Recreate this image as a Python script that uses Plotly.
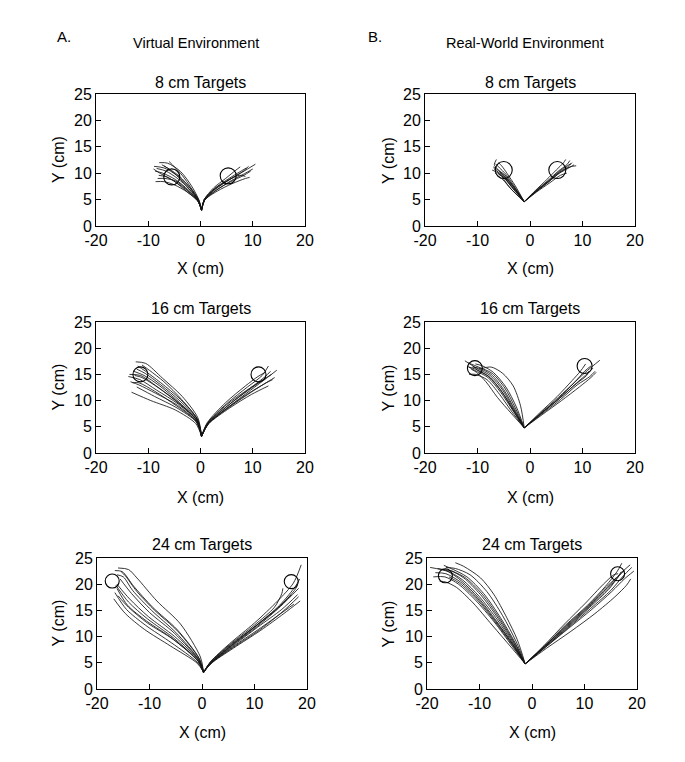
import plotly.graph_objects as go

# ---------------- data (cm) ----------------
PANEL_TITLES = ["8 cm Targets", "16 cm Targets", "24 cm Targets"]
COLUMN_HEADERS = ["Virtual Environment", "Real-World Environment"]
COLUMN_LETTERS = ["A.", "B."]
X_TICKS = [-20, -10, 0, 10, 20]
X_TICK_LABELS = ["-20", "-10", "0", "10", "20"]
Y_TICKS = [0, 5, 10, 15, 20, 25]
Y_TICK_LABELS = ["0", "5", "10", "15", "20", "25"]

# target centres (x, y) per panel: left, right
VE8_TARGETS = [(-5.5, 9.3), (5.3, 9.5)]
VE16_TARGETS = [(-11.5, 15.0), (11.1, 15.0)]
VE24_TARGETS = [(-17.1, 20.6), (17.0, 20.5)]
RW8_TARGETS = [(-5.0, 10.6), (5.2, 10.6)]
RW16_TARGETS = [(-10.5, 16.2), (10.4, 16.6)]
RW24_TARGETS = [(-16.5, 21.6), (16.3, 22.0)]

# trajectories: list of paths, each a list of (x, y) points
VE8_PATHS = [
    [(0.2, 3.0), (-0.3, 4.9), (-1.6, 7.4), (-3.8, 10.3), (-6.3, 11.9), (-7.9, 12.0)],
    [(0.2, 3.0), (-0.4, 4.9), (-2.0, 7.2), (-4.5, 9.6), (-7.0, 11.0), (-8.9, 11.3)],
    [(0.2, 3.0), (-0.5, 4.8), (-2.3, 6.8), (-4.8, 8.8), (-7.2, 10.0), (-8.7, 10.4)],
    [(0.2, 3.0), (-0.5, 4.7), (-2.5, 6.4), (-5.0, 7.8), (-7.0, 8.4), (-8.6, 8.4)],
    [(0.2, 3.0), (-0.4, 4.8), (-2.2, 7.0), (-4.2, 9.2), (-5.8, 10.6), (-7.0, 11.4)],
    [(0.2, 3.0), (-0.5, 4.8), (-2.4, 6.6), (-4.6, 8.2), (-6.5, 9.3), (-8.0, 9.6)],
    [(0.2, 3.0), (-0.3, 4.9), (-1.8, 7.2), (-3.5, 9.6), (-5.0, 11.2), (-6.0, 12.2)],
    [(0.2, 3.0), (-0.5, 4.7), (-2.6, 6.5), (-5.2, 8.6), (-7.6, 9.9), (-9.0, 10.8)],
    [(0.2, 3.0), (-0.4, 4.8), (-2.1, 7.0), (-4.4, 9.0), (-6.6, 10.4), (-8.4, 10.9)],
    [(0.2, 3.0), (-0.5, 4.8), (-2.4, 6.7), (-4.7, 8.5), (-6.8, 9.0), (-8.2, 9.0)],
    [(0.2, 3.0), (-0.4, 4.9), (-1.9, 7.1), (-4.0, 9.4), (-6.0, 10.8), (-7.4, 11.6)],
    [(0.2, 3.0), (0.8, 5.0), (2.8, 7.0), (5.5, 8.8), (8.0, 10.2), (10.5, 11.7)],
    [(0.2, 3.0), (0.8, 4.9), (3.0, 6.8), (5.8, 8.4), (8.3, 9.6), (9.6, 10.4)],
    [(0.2, 3.0), (0.7, 5.0), (2.6, 7.0), (5.2, 8.6), (7.4, 9.6), (8.6, 9.4)],
    [(0.2, 3.0), (0.8, 4.9), (3.2, 6.6), (6.0, 8.0), (8.6, 9.0), (9.4, 9.2)],
    [(0.2, 3.0), (0.7, 5.0), (2.5, 7.2), (4.8, 9.0), (6.8, 10.6), (7.6, 11.2)],
    [(0.2, 3.0), (0.8, 5.0), (2.9, 7.0), (5.6, 8.8), (8.2, 10.4), (9.2, 11.3)],
    [(0.2, 3.0), (0.8, 4.9), (3.1, 6.8), (5.9, 8.6), (8.4, 9.9), (10.0, 10.8)],
    [(0.2, 3.0), (0.7, 5.0), (2.7, 7.1), (5.3, 8.9), (7.6, 10.3), (8.8, 11.0)],
]
VE16_PATHS = [
    [(0.2, 3.2), (-0.5, 6.7), (-3.5, 10.8), (-7.3, 14.3), (-10.5, 17.1), (-12.4, 17.4)],
    [(0.2, 3.2), (-0.6, 6.5), (-3.8, 10.2), (-7.6, 13.4), (-10.8, 15.8), (-12.0, 16.6)],
    [(0.2, 3.2), (-0.7, 6.3), (-4.2, 9.6), (-8.2, 12.6), (-11.5, 14.8), (-13.6, 15.0)],
    [(0.2, 3.2), (-0.8, 6.0), (-4.6, 9.0), (-8.8, 11.8), (-11.8, 13.4), (-13.0, 13.4)],
    [(0.2, 3.2), (-0.9, 5.6), (-4.8, 8.2), (-9.5, 10.0), (-13.2, 11.6)],
    [(0.2, 3.2), (-0.8, 5.9), (-4.5, 8.6), (-8.8, 10.8), (-12.2, 12.6)],
    [(0.2, 3.2), (-0.7, 6.2), (-4.0, 9.6), (-7.8, 12.8), (-10.8, 14.8), (-12.8, 15.6)],
    [(0.2, 3.2), (-0.6, 6.4), (-3.6, 10.2), (-7.0, 13.6), (-9.8, 15.8), (-11.2, 16.8)],
    [(0.2, 3.2), (-0.7, 6.1), (-4.2, 9.3), (-8.4, 12.0), (-11.6, 14.0), (-13.8, 14.6)],
    [(0.2, 3.2), (-0.7, 6.2), (-4.1, 9.4), (-8.0, 12.4), (-11.2, 14.4), (-12.6, 14.8)],
    [(0.2, 3.2), (-0.8, 6.0), (-4.4, 9.1), (-8.6, 11.4), (-11.8, 13.0), (-13.4, 13.6)],
    [(0.2, 3.2), (-0.6, 6.4), (-3.9, 9.9), (-7.6, 13.0), (-10.6, 15.2), (-12.2, 16.0)],
    [(0.2, 3.2), (1.4, 5.8), (5.0, 9.4), (9.0, 12.6), (11.8, 14.8), (13.0, 16.6)],
    [(0.2, 3.2), (1.5, 5.6), (5.4, 8.8), (9.6, 12.0), (12.8, 14.4), (14.6, 15.8)],
    [(0.2, 3.2), (1.5, 5.5), (5.6, 8.6), (9.8, 11.2), (13.0, 12.8)],
    [(0.2, 3.2), (1.4, 5.6), (5.2, 9.0), (9.2, 12.0), (12.0, 14.0), (13.6, 15.0)],
    [(0.2, 3.2), (1.3, 5.8), (4.8, 9.6), (8.6, 12.8), (11.0, 14.6), (12.4, 15.4)],
    [(0.2, 3.2), (1.5, 5.6), (5.6, 8.8), (10.0, 11.8), (13.2, 13.8), (14.2, 14.4)],
    [(0.2, 3.2), (1.4, 5.7), (5.0, 9.2), (9.2, 12.2), (11.8, 13.8)],
    [(0.2, 3.2), (1.4, 5.7), (5.3, 9.1), (9.4, 12.3), (12.4, 14.6), (13.4, 15.6)],
    [(0.2, 3.2), (1.5, 5.6), (5.5, 8.9), (9.7, 11.7), (12.6, 13.4), (13.8, 14.0)],
]
VE24_PATHS = [
    [(0.3, 3.2), (-0.3, 6.1), (-4.1, 12.4), (-8.6, 16.8), (-12.4, 21.2), (-14.0, 22.8), (-16.0, 23.1)],
    [(0.3, 3.2), (-0.5, 5.8), (-4.8, 11.4), (-9.4, 15.6), (-13.0, 19.6), (-15.2, 22.4), (-16.6, 22.6)],
    [(0.3, 3.2), (-0.6, 5.5), (-5.2, 10.6), (-10.0, 14.6), (-13.4, 18.2), (-15.6, 21.0)],
    [(0.3, 3.2), (-0.7, 5.2), (-5.6, 9.6), (-10.6, 13.0), (-14.2, 16.0), (-16.2, 19.2)],
    [(0.3, 3.2), (-0.9, 4.9), (-6.0, 8.2), (-11.0, 11.4), (-14.6, 14.4), (-16.8, 17.2)],
    [(0.3, 3.2), (-0.8, 5.0), (-5.8, 8.8), (-10.8, 12.2), (-14.4, 15.2), (-16.6, 18.4)],
    [(0.3, 3.2), (-0.6, 5.4), (-5.2, 10.0), (-10.2, 13.8), (-13.8, 17.2), (-16.2, 20.0)],
    [(0.3, 3.2), (-0.5, 5.7), (-4.6, 11.0), (-9.0, 15.0), (-12.4, 18.6), (-14.6, 21.6), (-15.4, 22.4)],
    [(0.3, 3.2), (-0.7, 5.3), (-5.4, 9.4), (-10.4, 12.6), (-14.0, 15.6), (-16.0, 17.8)],
    [(0.3, 3.2), (-0.6, 5.6), (-5.0, 10.8), (-9.6, 15.0), (-13.2, 18.8), (-15.0, 21.4), (-16.2, 21.8)],
    [(0.3, 3.2), (-0.7, 5.3), (-5.5, 9.8), (-10.4, 13.4), (-14.0, 16.6), (-16.4, 19.8)],
    [(0.3, 3.2), (1.6, 5.2), (5.2, 8.6), (10.0, 12.6), (14.4, 16.8), (17.4, 20.2), (18.9, 23.7)],
    [(0.3, 3.2), (1.7, 5.0), (5.6, 8.2), (10.6, 12.0), (15.0, 15.8), (18.4, 19.2)],
    [(0.3, 3.2), (1.8, 4.9), (6.0, 7.8), (11.2, 11.2), (15.6, 14.4), (18.7, 16.8)],
    [(0.3, 3.2), (1.7, 4.9), (5.8, 8.0), (10.8, 11.4), (15.0, 14.4), (17.5, 16.2)],
    [(0.3, 3.2), (1.6, 5.1), (5.2, 8.4), (10.0, 12.2), (13.8, 15.6), (15.2, 18.2), (15.4, 19.2)],
    [(0.3, 3.2), (1.6, 5.1), (5.4, 8.4), (10.4, 12.2), (14.8, 16.0), (17.8, 19.6), (18.6, 21.0)],
    [(0.3, 3.2), (1.7, 5.0), (5.7, 8.1), (10.6, 11.8), (15.2, 15.2), (18.2, 18.0)],
    [(0.3, 3.2), (1.6, 5.0), (5.5, 8.3), (10.2, 12.0), (14.4, 15.4), (17.0, 18.0)],
    [(0.3, 3.2), (1.7, 5.0), (5.6, 8.3), (10.4, 12.1), (14.6, 15.6), (17.6, 18.8), (18.2, 19.8)],
    [(0.3, 3.2), (1.7, 4.9), (5.9, 7.9), (11.0, 11.3), (15.4, 14.8), (18.4, 17.6)],
]
RW8_PATHS = [
    [(-1.1, 4.6), (-3.0, 7.2), (-5.0, 9.6), (-6.2, 10.8), (-6.8, 11.6), (-6.4, 12.6)],
    [(-1.1, 4.6), (-3.2, 7.0), (-5.2, 9.4), (-6.4, 10.2), (-7.2, 10.6)],
    [(-1.1, 4.6), (-2.9, 7.4), (-4.6, 9.8), (-5.8, 11.0), (-6.6, 11.8)],
    [(-1.1, 4.6), (-3.1, 7.0), (-5.0, 9.2), (-6.0, 9.8)],
    [(-1.1, 4.6), (-3.4, 6.8), (-5.2, 8.8), (-6.2, 9.6), (-6.6, 10.0)],
    [(-1.1, 4.6), (-2.8, 7.6), (-4.4, 10.0), (-5.4, 11.4), (-6.0, 12.0)],
    [(-1.1, 4.6), (-3.0, 7.3), (-4.8, 9.7), (-6.0, 10.5), (-7.0, 11.2)],
    [(-1.1, 4.6), (-3.8, 7.2), (-5.4, 9.4), (-6.2, 10.2)],
    [(-1.1, 4.6), (-3.1, 7.1), (-5.1, 9.5), (-6.3, 10.4), (-6.9, 10.9)],
    [(-1.1, 4.6), (-3.0, 7.3), (-4.9, 9.5), (-5.8, 10.3)],
    [(-1.1, 4.6), (1.0, 6.6), (3.4, 8.6), (5.4, 10.4), (7.0, 11.6), (7.6, 12.4)],
    [(-1.1, 4.6), (1.2, 6.5), (3.6, 8.4), (5.6, 10.0), (7.4, 11.0), (8.4, 11.6)],
    [(-1.1, 4.6), (1.1, 6.5), (3.5, 8.5), (5.6, 10.2), (7.2, 11.2), (8.0, 12.0)],
    [(-1.1, 4.6), (1.2, 6.4), (3.8, 8.2), (5.8, 9.6), (7.0, 10.0)],
    [(-1.1, 4.6), (1.0, 6.7), (3.2, 8.8), (5.0, 10.6), (6.4, 12.0), (6.8, 12.6)],
    [(-1.1, 4.6), (1.1, 6.5), (3.6, 8.4), (5.8, 10.2), (7.6, 11.2), (8.8, 11.4)],
    [(-1.1, 4.6), (1.1, 6.6), (3.5, 8.5), (5.5, 10.3), (7.1, 11.4), (7.8, 11.8)],
]
RW16_PATHS = [
    [(-1.1, 4.8), (-3.0, 8.2), (-5.2, 12.0), (-7.6, 14.8), (-10.2, 16.2), (-12.4, 17.6)],
    [(-1.1, 4.8), (-3.2, 8.0), (-5.6, 11.6), (-8.0, 14.4), (-10.6, 15.8), (-12.0, 16.6)],
    [(-1.1, 4.8), (-3.4, 7.8), (-5.8, 11.2), (-8.2, 14.0), (-10.4, 15.0), (-11.6, 15.0)],
    [(-1.1, 4.8), (-2.8, 8.6), (-4.8, 12.4), (-7.2, 15.2), (-9.8, 16.4), (-11.8, 17.2)],
    [(-1.1, 4.8), (-1.8, 9.0), (-3.2, 12.8), (-5.2, 15.2), (-7.4, 16.4), (-9.6, 16.0)],
    [(-1.1, 4.8), (-3.6, 7.6), (-6.2, 10.6), (-8.4, 13.6), (-10.2, 15.4), (-11.2, 16.0)],
    [(-1.1, 4.8), (-3.1, 8.1), (-5.4, 11.8), (-7.8, 14.6), (-10.0, 15.8), (-10.8, 16.6)],
    [(-1.1, 4.8), (-2.6, 8.8), (-4.6, 12.6), (-7.0, 15.4), (-9.0, 16.6), (-10.4, 17.0)],
    [(-1.1, 4.8), (-3.1, 8.0), (-5.4, 11.7), (-7.9, 14.6), (-10.4, 16.0), (-11.6, 16.4)],
    [(-1.1, 4.8), (-2.9, 8.3), (-5.0, 12.1), (-7.4, 15.0), (-9.8, 16.2), (-11.0, 16.4)],
    [(-1.1, 4.8), (2.0, 7.6), (5.4, 10.6), (8.6, 13.6), (11.0, 15.8), (13.3, 17.7)],
    [(-1.1, 4.8), (2.2, 7.4), (5.8, 10.2), (9.0, 13.0), (11.4, 14.6), (12.4, 15.6)],
    [(-1.1, 4.8), (2.0, 7.5), (5.6, 10.4), (8.8, 13.2), (10.8, 14.8), (11.2, 15.6)],
    [(-1.1, 4.8), (2.1, 7.5), (5.5, 10.5), (8.4, 13.4), (10.4, 15.6), (11.6, 16.6)],
    [(-1.1, 4.8), (1.9, 7.7), (5.2, 10.8), (8.0, 13.8), (9.6, 15.6), (10.6, 17.0)],
    [(-1.1, 4.8), (2.3, 7.3), (6.0, 10.0), (9.4, 12.6), (11.6, 14.4), (12.6, 15.4)],
    [(-1.1, 4.8), (2.1, 7.5), (5.6, 10.4), (8.8, 13.3), (11.0, 15.2), (12.0, 16.2)],
]
RW24_PATHS = [
    [(-1.3, 4.8), (-3.6, 8.4), (-6.8, 13.0), (-10.2, 17.4), (-13.4, 20.6), (-16.0, 22.4), (-19.4, 23.2)],
    [(-1.3, 4.8), (-3.8, 8.2), (-7.2, 12.8), (-10.8, 17.0), (-14.0, 20.0), (-16.6, 21.4), (-18.8, 21.4)],
    [(-1.3, 4.8), (-3.4, 8.6), (-6.4, 13.4), (-9.8, 18.0), (-13.0, 21.2), (-15.6, 22.6), (-17.2, 22.8)],
    [(-1.3, 4.8), (-3.0, 9.0), (-5.6, 14.0), (-8.6, 18.6), (-11.8, 21.8), (-14.6, 23.0), (-16.4, 23.2)],
    [(-1.3, 4.8), (-2.8, 9.4), (-4.8, 13.6), (-7.3, 18.1), (-9.8, 21.2), (-13.0, 23.4), (-14.6, 24.1)],
    [(-1.3, 4.8), (-4.0, 8.0), (-7.6, 12.2), (-11.2, 16.4), (-14.4, 19.4), (-16.4, 20.4), (-17.6, 20.6)],
    [(-1.3, 4.8), (-3.5, 8.5), (-6.6, 13.2), (-10.0, 17.6), (-13.2, 20.8), (-16.2, 22.6), (-18.0, 23.0)],
    [(-1.3, 4.8), (-3.2, 8.8), (-6.0, 13.6), (-9.2, 18.2), (-12.4, 21.4), (-15.0, 22.8), (-16.8, 23.6)],
    [(-1.3, 4.8), (-3.7, 8.3), (-7.0, 12.8), (-10.6, 17.2), (-13.8, 20.2), (-15.8, 21.4)],
    [(-1.3, 4.8), (-3.6, 8.4), (-6.9, 12.9), (-10.4, 17.3), (-13.6, 20.4), (-16.4, 22.0), (-18.4, 22.2)],
    [(-1.3, 4.8), (-3.3, 8.7), (-6.2, 13.5), (-9.5, 18.1), (-12.8, 21.3), (-15.4, 22.6)],
    [(-1.3, 4.8), (2.4, 8.2), (6.6, 12.0), (10.8, 15.8), (14.4, 19.4), (16.8, 22.0), (18.7, 23.7)],
    [(-1.3, 4.8), (2.6, 8.0), (7.0, 11.6), (11.4, 15.2), (15.2, 18.6), (17.6, 21.0), (19.4, 22.5)],
    [(-1.3, 4.8), (2.4, 8.2), (6.4, 12.2), (10.6, 16.0), (14.0, 19.6), (16.2, 22.4), (17.1, 24.0)],
    [(-1.3, 4.8), (2.8, 7.8), (7.4, 11.0), (12.0, 14.4), (15.8, 17.6), (18.0, 19.8), (18.8, 21.0)],
    [(-1.3, 4.8), (2.5, 8.1), (6.8, 11.8), (11.0, 15.6), (14.6, 19.0), (16.6, 21.6), (17.6, 22.6)],
    [(-1.3, 4.8), (2.3, 8.3), (6.2, 12.4), (10.2, 16.4), (13.6, 20.0), (15.6, 21.8), (16.4, 22.0)],
    [(-1.3, 4.8), (2.6, 8.0), (6.9, 11.7), (11.2, 15.4), (15.0, 18.8), (17.4, 21.6), (19.0, 23.2)],
    [(-1.3, 4.8), (2.5, 8.1), (6.7, 11.9), (10.9, 15.7), (14.5, 19.2), (16.4, 21.4), (17.0, 22.4)],
    [(-1.3, 4.8), (2.4, 8.2), (6.5, 12.1), (10.7, 15.9), (14.2, 19.5), (16.0, 21.2)],
]

PANELS = [
    # (row, col, paths, targets)
    (0, 0, VE8_PATHS, VE8_TARGETS),
    (0, 1, RW8_PATHS, RW8_TARGETS),
    (1, 0, VE16_PATHS, VE16_TARGETS),
    (1, 1, RW16_PATHS, RW16_TARGETS),
    (2, 0, VE24_PATHS, VE24_TARGETS),
    (2, 1, RW24_PATHS, RW24_TARGETS),
]

# ---------------- layout geometry (page pixels) ----------------
PAGE_W, PAGE_H = 685, 762
BODY_MARGIN = 8          # default page margin around the plot div
W, H = PAGE_W - BODY_MARGIN, PAGE_H - BODY_MARGIN
COL_PX = [[(96, 305), (425, 635)], [(96, 305), (425, 635)], [(97, 307), (427, 637)]]
ROW_PX = [(94, 226), (322, 453), (558, 689)]
TITLE_Y_PX = [82, 309, 544]
XTITLE_Y_PX = [268, 497, 732]
YTITLE_X_PX = [58, 388]
CIRCLE_SIZE = [[16, 17], [15, 15], [14, 14]]
HEADER_X_PX = [196, 525]
HEADER_Y_PX = 43
LETTER_X_PX = [64, 375]
LETTER_Y_PX = 37


def px_x(p):
    return (p - BODY_MARGIN) / W


def px_y(p):
    return 1 - (p - BODY_MARGIN) / H


FONT = "Liberation Sans, Arial, sans-serif"
LINE_COLOR = "rgba(20,20,20,0.85)"

fig = go.Figure()
layout = dict(
    template="none",
    width=W, height=H, autosize=False,
    margin=dict(l=0, r=0, t=0, b=0, pad=0, autoexpand=False),
    paper_bgcolor="white", plot_bgcolor="white", showlegend=False,
    font=dict(family=FONT, size=16, color="black"),
)
annotations = []

for i, (r, c, paths, targets) in enumerate(PANELS):
    idx = i + 1
    xa = "x" if idx == 1 else f"x{idx}"
    ya = "y" if idx == 1 else f"y{idx}"
    xl, xr = COL_PX[r][c]
    yt, yb = ROW_PX[r]
    for p in paths:
        fig.add_trace(go.Scatter(
            x=[pt[0] for pt in p], y=[pt[1] for pt in p], mode="lines",
            line=dict(color=LINE_COLOR, width=1.0, shape="spline", smoothing=0.8),
            xaxis=xa, yaxis=ya, hoverinfo="skip"))
    fig.add_trace(go.Scatter(
        x=[t[0] for t in targets], y=[t[1] for t in targets], mode="markers",
        marker=dict(symbol="circle-open", size=CIRCLE_SIZE[r][c],
                    color="black", line=dict(width=1.1, color="black")),
        xaxis=xa, yaxis=ya, hoverinfo="skip"))
    axcommon = dict(showgrid=False, zeroline=False, showline=True, linecolor="black",
                    linewidth=1, mirror=True, ticks="inside", ticklen=5, tickwidth=1,
                    tickcolor="black", automargin=False,
                    tickfont=dict(family=FONT, size=16, color="black"))
    layout["xaxis" if idx == 1 else f"xaxis{idx}"] = dict(
        axcommon, domain=[px_x(xl), px_x(xr)], range=[-20, 20], tickmode="array",
        tickvals=X_TICKS, ticktext=X_TICK_LABELS, anchor=ya)
    layout["yaxis" if idx == 1 else f"yaxis{idx}"] = dict(
        axcommon, domain=[px_y(yb), px_y(yt)], range=[0, 25], tickmode="array",
        tickvals=Y_TICKS, ticktext=Y_TICK_LABELS, anchor=xa)
    cx = px_x((xl + xr) / 2)
    annotations.append(dict(text=PANEL_TITLES[r], x=cx, y=px_y(TITLE_Y_PX[r]),
                            xref="paper", yref="paper", showarrow=False,
                            xanchor="center", yanchor="middle",
                            font=dict(family=FONT, size=16)))
    annotations.append(dict(text="X (cm)", x=cx, y=px_y(XTITLE_Y_PX[r]),
                            xref="paper", yref="paper", showarrow=False,
                            xanchor="center", yanchor="middle",
                            font=dict(family=FONT, size=16)))
    annotations.append(dict(text="Y (cm)", x=px_x(YTITLE_X_PX[c]), y=px_y((yt + yb) / 2),
                            xref="paper", yref="paper", showarrow=False, textangle=-90,
                            xanchor="center", yanchor="middle",
                            font=dict(family=FONT, size=16)))

for c in range(2):
    annotations.append(dict(text=COLUMN_HEADERS[c], x=px_x(HEADER_X_PX[c]), y=px_y(HEADER_Y_PX),
                            xref="paper", yref="paper", showarrow=False,
                            xanchor="center", yanchor="middle",
                            font=dict(family=FONT, size=14.5)))
    annotations.append(dict(text=COLUMN_LETTERS[c], x=px_x(LETTER_X_PX[c]), y=px_y(LETTER_Y_PX),
                            xref="paper", yref="paper", showarrow=False,
                            xanchor="center", yanchor="middle",
                            font=dict(family=FONT, size=15)))

layout["annotations"] = annotations
fig.update_layout(**layout)
fig.write_html("out.html")
